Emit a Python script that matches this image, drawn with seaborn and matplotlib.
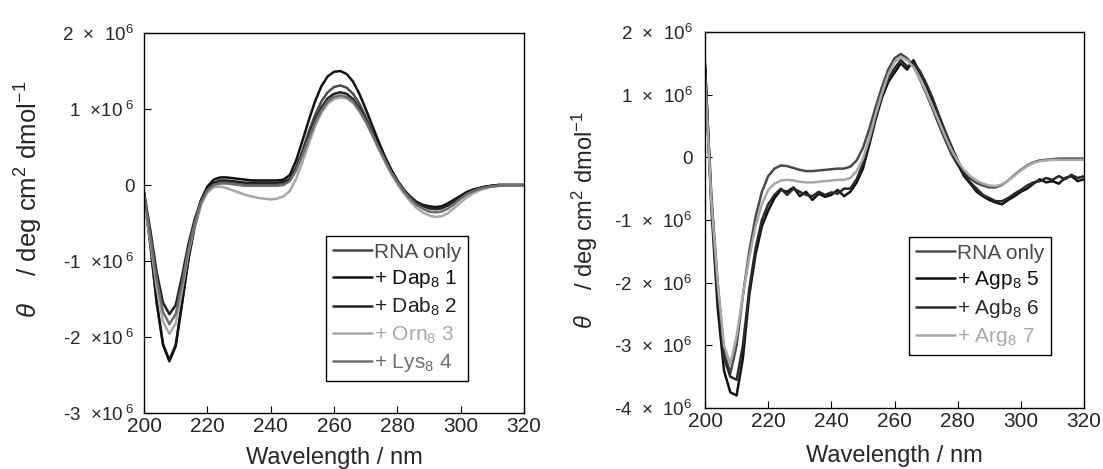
import numpy as np
import pandas as pd
import matplotlib
matplotlib.use('Agg')
import matplotlib.pyplot as plt
import seaborn as sns

# Wellenlaenge (nm), Schritt 2 nm
wl = list(range(200, 321, 2))

# linkes Panel (Werte in 10^6 deg cm2 dmol-1)
rna_a = [-0.15, -0.8, -1.55, -2.1, -2.3, -2.1, -1.55, -0.98, -0.55, -0.25,
         -0.08, 0.0, 0.03, 0.03, 0.02, 0.01, 0.0, 0.0, 0.0, 0.0,
         0.0, 0.0, 0.01, 0.06, 0.22, 0.45, 0.7, 0.92, 1.1, 1.22,
         1.29, 1.31, 1.28, 1.2, 1.07, 0.9, 0.71, 0.52, 0.34, 0.18,
         0.04, -0.08, -0.17, -0.24, -0.28, -0.31, -0.32, -0.31, -0.27, -0.21,
         -0.15, -0.1, -0.06, -0.04, -0.02, -0.01, 0.0, 0.0, 0.0, 0.0, 0.0]
dap1 = [-0.1, -0.78, -1.55, -2.1, -2.32, -2.12, -1.56, -0.98, -0.52, -0.2,
        -0.02, 0.07, 0.1, 0.1, 0.09, 0.08, 0.07, 0.06, 0.06, 0.06,
        0.06, 0.06, 0.07, 0.13, 0.32, 0.58, 0.85, 1.1, 1.3, 1.43,
        1.49, 1.5, 1.46, 1.36, 1.2, 1.0, 0.79, 0.58, 0.38, 0.21,
        0.06, -0.06, -0.15, -0.22, -0.26, -0.28, -0.29, -0.28, -0.24, -0.19,
        -0.14, -0.09, -0.06, -0.04, -0.02, -0.01, 0.0, 0.0, 0.0, 0.0, 0.0]
dab2 = [-0.1, -0.6, -1.15, -1.55, -1.7, -1.58, -1.2, -0.78, -0.45, -0.2,
        -0.05, 0.03, 0.06, 0.06, 0.05, 0.04, 0.03, 0.03, 0.03, 0.03,
        0.03, 0.03, 0.04, 0.08, 0.22, 0.42, 0.64, 0.85, 1.02, 1.14,
        1.2, 1.22, 1.2, 1.13, 1.01, 0.86, 0.69, 0.51, 0.34, 0.18,
        0.05, -0.07, -0.16, -0.23, -0.27, -0.3, -0.31, -0.3, -0.26, -0.21,
        -0.15, -0.1, -0.07, -0.04, -0.02, -0.01, 0.0, 0.0, 0.0, 0.0, 0.0]
orn3 = [-0.2, -0.75, -1.35, -1.8, -1.96, -1.82, -1.38, -0.9, -0.52, -0.25,
        -0.1, -0.03, -0.02, -0.04, -0.07, -0.1, -0.13, -0.15, -0.17, -0.18,
        -0.19, -0.18, -0.15, -0.08, 0.08, 0.3, 0.54, 0.77, 0.95, 1.07,
        1.13, 1.15, 1.14, 1.08, 0.97, 0.83, 0.66, 0.48, 0.31, 0.15,
        0.01, -0.11, -0.21, -0.3, -0.36, -0.4, -0.42, -0.41, -0.37, -0.3,
        -0.23, -0.16, -0.11, -0.07, -0.04, -0.02, -0.01, 0.0, 0.0, 0.0, 0.0]
lys4 = [-0.12, -0.68, -1.25, -1.67, -1.83, -1.7, -1.3, -0.85, -0.5, -0.23,
        -0.07, 0.0, 0.02, 0.02, 0.01, 0.0, -0.01, -0.01, -0.01, -0.01,
        -0.01, -0.01, 0.0, 0.05, 0.19, 0.39, 0.61, 0.82, 0.98, 1.1,
        1.16, 1.18, 1.16, 1.1, 0.98, 0.84, 0.67, 0.5, 0.33, 0.17,
        0.04, -0.08, -0.18, -0.26, -0.31, -0.35, -0.36, -0.35, -0.31, -0.25,
        -0.18, -0.12, -0.08, -0.05, -0.03, -0.02, -0.01, 0.0, 0.0, 0.0, 0.0]

# rechtes Panel
rna_b = [1.4, -0.6, -2.0, -3.1, -3.45, -3.0, -2.2, -1.5, -0.95, -0.55,
         -0.3, -0.18, -0.13, -0.14, -0.17, -0.2, -0.22, -0.22, -0.21, -0.2,
         -0.19, -0.18, -0.18, -0.15, -0.05, 0.15, 0.45, 0.8, 1.12, 1.4,
         1.58, 1.65, 1.58, 1.45, 1.25, 1.02, 0.78, 0.52, 0.28, 0.05,
         -0.12, -0.25, -0.34, -0.41, -0.45, -0.48, -0.48, -0.44, -0.37, -0.28,
         -0.2, -0.13, -0.08, -0.05, -0.04, -0.03, -0.02, -0.02, -0.02, -0.02, -0.02]
agp5 = [1.5, -0.8, -2.4, -3.4, -3.75, -3.8, -3.2, -2.2, -1.55, -1.1,
        -0.85, -0.65, -0.52, -0.55, -0.48, -0.62, -0.55, -0.68, -0.58, -0.63,
        -0.6, -0.52, -0.62, -0.55, -0.4, -0.18, 0.2, 0.6, 0.95, 1.2,
        1.35, 1.5, 1.4, 1.55, 1.35, 1.15, 0.9, 0.62, 0.35, 0.12,
        -0.1, -0.3, -0.42, -0.55, -0.62, -0.68, -0.72, -0.75, -0.68, -0.62,
        -0.55, -0.5, -0.42, -0.35, -0.4, -0.38, -0.42, -0.33, -0.3, -0.38, -0.35]
agb6 = [1.45, -0.7, -2.2, -3.2, -3.5, -3.55, -3.0, -2.1, -1.45, -1.0,
        -0.75, -0.6, -0.5, -0.6, -0.5, -0.55, -0.6, -0.62, -0.55, -0.6,
        -0.56, -0.58, -0.5, -0.5, -0.35, -0.1, 0.25, 0.65, 1.0, 1.25,
        1.42, 1.55, 1.45, 1.5, 1.38, 1.18, 0.95, 0.68, 0.42, 0.18,
        -0.05, -0.25, -0.4, -0.5, -0.6, -0.65, -0.7, -0.7, -0.65, -0.58,
        -0.52, -0.45, -0.4, -0.38, -0.33, -0.36, -0.3, -0.35, -0.28, -0.33, -0.3]
arg7 = [1.3, -0.7, -2.0, -3.0, -3.3, -2.85, -2.2, -1.6, -1.1, -0.75,
        -0.52, -0.42, -0.37, -0.36, -0.37, -0.39, -0.4, -0.4, -0.39, -0.38,
        -0.37, -0.36, -0.36, -0.33, -0.22, -0.02, 0.3, 0.68, 1.02, 1.32,
        1.52, 1.6, 1.55, 1.44, 1.26, 1.05, 0.82, 0.58, 0.34, 0.12,
        -0.06, -0.2, -0.3, -0.37, -0.42, -0.45, -0.46, -0.43, -0.37, -0.29,
        -0.21, -0.14, -0.09, -0.06, -0.05, -0.04, -0.04, -0.04, -0.04, -0.04, -0.04]

labels_a = ['RNA only', '+ Dap$_8$ 1', '+ Dab$_8$ 2', '+ Orn$_8$ 3', '+ Lys$_8$ 4']
labels_b = ['RNA only', '+ Agp$_8$ 5', '+ Agb$_8$ 6', '+ Arg$_8$ 7']
farben_a = ['#4a4a4a', '#111111', '#222222', '#a8a8a8', '#6e6e6e']
farben_b = ['#4a4a4a', '#111111', '#2a2a2a', '#a8a8a8']

yticks_a = [-3, -2, -1, 0, 1, 2]
yticks_b = [-4, -3, -2, -1, 0, 1, 2]
ytl_a = ['-3  ×10$^{\\ 6}$', '-2  ×10$^{\\ 6}$', '-1  ×10$^{\\ 6}$', '0',
         '1  ×10$^{\\ 6}$', '2  ×  10$^6$']
ytl_b = ['-4  ×  10$^6$', '-3  ×  10$^6$', '-2  ×  10$^6$', '-1  ×  10$^6$', '0',
         '1  ×  10$^6$', '2  ×  10$^6$']

sns.set_style('ticks')
plt.rcParams['font.family'] = ['Liberation Sans', 'DejaVu Sans']
plt.rcParams['mathtext.fontset'] = 'custom'
plt.rcParams['mathtext.rm'] = 'Liberation Sans'
plt.rcParams['mathtext.it'] = 'Liberation Sans:italic'
plt.rcParams['mathtext.default'] = 'regular'


def lang(werte, labels):
    teile = []
    for w, lab in zip(werte, labels):
        teile.append(pd.DataFrame({'wl': wl, 'theta': np.array(w) * 1e6, 'probe': lab}))
    return pd.concat(teile, ignore_index=True)


df_a = lang([rna_a, dap1, dab2, orn3, lys4], labels_a)
df_b = lang([rna_b, agp5, agb6, arg7], labels_b)

fig = plt.figure(figsize=(11.03, 4.69), dpi=100)
ax1 = fig.add_axes([0.1306, 0.1194, 0.3445, 0.8102])
ax2 = fig.add_axes([0.6392, 0.1301, 0.3436, 0.8017])

ylab = '$\\mathit{\\theta}$    / deg cm$^2$ dmol$^{-1}$'

for ax, df, labels, farben, ylim, yt, ytl, pad, anker, ysize in [
        (ax1, df_a, labels_a, farben_a, (-3e6, 2e6), yticks_a, ytl_a, 7, (0.88, 0.058), 18.5),
        (ax2, df_b, labels_b, farben_b, (-4e6, 2e6), yticks_b, ytl_b, 9, (0.94, 0.114), 17)]:
    sns.lineplot(data=df, x='wl', y='theta', hue='probe', hue_order=labels,
                 palette=farben, linewidth=1.8, ax=ax)
    ax.set_xlim(200, 320)
    ax.set_ylim(*ylim)
    ax.set_xticks(range(200, 321, 20))
    ax.set_yticks([v * 1e6 for v in yt])
    ax.set_yticklabels(ytl)
    ax.tick_params(axis='x', direction='in', length=5, labelsize=15, pad=3, color='black')
    ax.tick_params(axis='y', direction='in', length=5, labelsize=13.5, pad=pad, color='black')
    for s in ax.spines.values():
        s.set_color('black')
        s.set_linewidth(1.0)
    ax.set_xlabel('Wavelength / nm', fontsize=17, labelpad=8 if ax is ax1 else 10)
    ax.set_ylabel(ylab, fontsize=ysize)
    leg = ax.legend(loc='lower right', bbox_to_anchor=anker,
                    fontsize=15, frameon=True, fancybox=False, edgecolor='black',
                    framealpha=1, handlelength=1.9, handletextpad=0.1,
                    labelspacing=0.3, borderpad=0.3, labelcolor='linecolor')
    leg.get_frame().set_linewidth(1.0)

ax1.yaxis.set_label_coords(-0.26, 0.563)
ax2.yaxis.set_label_coords(-0.277, 0.5)

fig.savefig('out.png', dpi=100)
